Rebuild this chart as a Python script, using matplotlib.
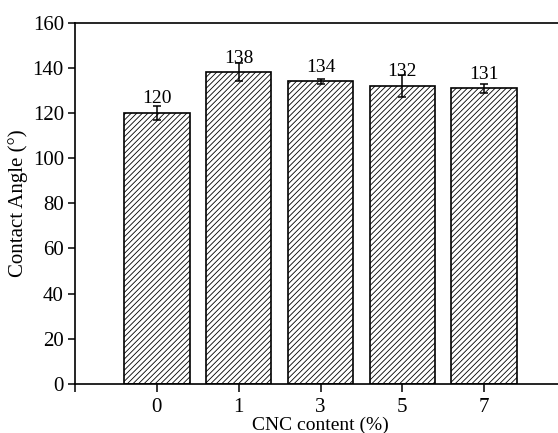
import matplotlib.pyplot as plt

plt.rcParams["font.family"] = ["Liberation Serif", "DejaVu Serif"]
plt.rcParams["hatch.linewidth"] = 0.6
plt.rcParams["hatch.color"] = "#333333"

cnc_content = ["0", "1", "3", "5", "7"]
contact_angle = [120, 138, 134, 132, 131]
angle_err = [3, 4, 1, 5, 2]

fig = plt.figure(figsize=(5.58, 4.33), dpi=100)
ax = fig.add_axes([0.1344, 0.1132, 0.88, 0.8344])

pos = list(range(len(cnc_content)))
ax.bar(pos, contact_angle, width=0.8, color="white", edgecolor="black",
       linewidth=1.2, hatch="//////", zorder=2)
ax.errorbar(pos, contact_angle, yerr=angle_err, fmt="none", ecolor="black",
            elinewidth=1.1, capsize=3, capthick=1.1, zorder=3)

for x, v in zip(pos, contact_angle):
    ax.text(x, v + 2.5, str(v), ha="center", va="bottom", fontsize=14)

ax.set_xlim(-1, 5)
ax.set_ylim(0, 160)
ax.set_xticks([-1] + pos)
ax.set_xticklabels([""] + cnc_content)
ax.set_yticks(range(0, 161, 20))

ax.tick_params(axis="both", direction="out", labelsize=15, width=1.1)
ax.tick_params(axis="x", length=6, pad=4)
ax.tick_params(axis="y", length=5, pad=3)
for spine in ax.spines.values():
    spine.set_linewidth(1.2)

ax.set_xlabel("CNC content (%)", fontsize=14, labelpad=0)
ax.set_ylabel("Contact Angle (°)", fontsize=15, labelpad=3)

fig.savefig("out.png", dpi=100)
